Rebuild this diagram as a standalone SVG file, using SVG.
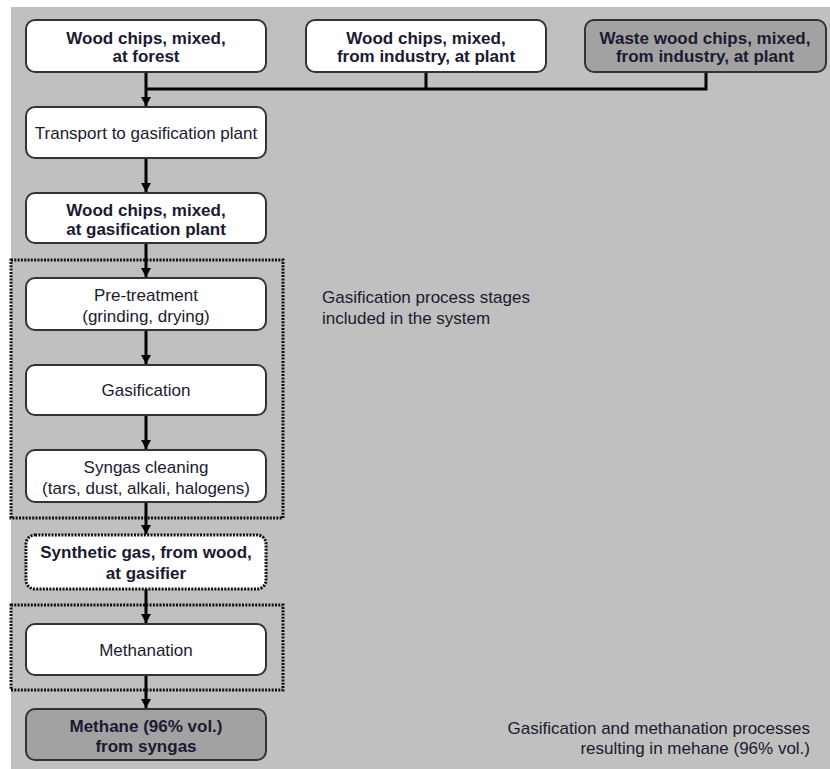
<svg xmlns="http://www.w3.org/2000/svg" width="830" height="769" viewBox="0 0 830 769">
  <style>
    .box { fill: #ffffff; stroke: #333333; stroke-width: 2; }
    .dark { fill: #a2a2a2; }
    .dotted { stroke: #111111; stroke-width: 3; stroke-dasharray: 2 1.3; fill: none; }
    .dotbox { fill: #ffffff; stroke: #111111; stroke-width: 3; stroke-dasharray: 2 1.3; }
    .t { font-family: "Liberation Sans", Arial, sans-serif; font-size: 17px; fill: #1a1a30; text-anchor: middle; }
    .b { font-weight: bold; font-size: 17px; }
    .note { font-family: "Liberation Sans", Arial, sans-serif; font-size: 17px; fill: #1a1a30; }
    .line { stroke: #000000; stroke-width: 3; fill: none; }
  </style>
  <defs>
    <marker id="ah" markerWidth="11" markerHeight="10" refX="10" refY="5.5" orient="auto" markerUnits="userSpaceOnUse" viewBox="0 0 10 11">
      <path d="M0,0 L10,5.5 L0,11 Z" fill="#000000"/>
    </marker>
  </defs>

  <!-- page -->
  <rect x="0" y="0" width="830" height="769" fill="#ffffff"/>
  <rect x="11" y="7" width="819" height="762" fill="#c0c0c0"/>

  <!-- stage group outlines -->
  <rect class="dotted" x="11" y="260" width="272" height="258"/>
  <rect class="dotted" x="11" y="605" width="272" height="85"/>

  <!-- connectors -->
  <g id="connectors">
    <path class="line" d="M426,72 V89"/>
    <path class="line" d="M706,72 V89 H146"/>
    <path class="line" d="M146,72 V106" marker-end="url(#ah)"/>
    <path class="line" d="M146,158 V192" marker-end="url(#ah)"/>
    <path class="line" d="M146,243 V277" marker-end="url(#ah)"/>
    <path class="line" d="M146,330 V364" marker-end="url(#ah)"/>
    <path class="line" d="M146,415 V449" marker-end="url(#ah)"/>
    <path class="line" d="M146,502 V534" marker-end="url(#ah)"/>
    <path class="line" d="M146,589 V623" marker-end="url(#ah)"/>
    <path class="line" d="M146,675 V708" marker-end="url(#ah)"/>
  </g>

  <g id="forest">
    <rect class="box" x="26" y="20" width="240" height="52" rx="9"/>
    <text class="t b" x="146" y="44">Wood chips, mixed,</text>
    <text class="t b" x="146" y="62">at forest</text>
  </g>
  <g id="industry">
    <rect class="box" x="306" y="20" width="240" height="52" rx="9"/>
    <text class="t b" x="426" y="44">Wood chips, mixed,</text>
    <text class="t b" x="426" y="62">from industry, at plant</text>
  </g>
  <g id="waste">
    <rect class="box dark" x="585" y="20" width="241" height="52" rx="9"/>
    <text class="t b" x="705" y="44">Waste wood chips, mixed,</text>
    <text class="t b" x="705" y="62">from industry, at plant</text>
  </g>
  <g id="transport">
    <rect class="box" x="26" y="107" width="240" height="51" rx="9"/>
    <text class="t" x="146" y="139">Transport to gasification plant</text>
  </g>
  <g id="at-plant">
    <rect class="box" x="26" y="193" width="240" height="50" rx="9"/>
    <text class="t b" x="146" y="216">Wood chips, mixed,</text>
    <text class="t b" x="146" y="235">at gasification plant</text>
  </g>
  <g id="pretreatment">
    <rect class="box" x="26" y="278" width="240" height="52" rx="9"/>
    <text class="t" x="146" y="301">Pre-treatment</text>
    <text class="t" x="146" y="322">(grinding, drying)</text>
  </g>
  <g id="gasification">
    <rect class="box" x="26" y="365" width="240" height="50" rx="9"/>
    <text class="t" x="146" y="396">Gasification</text>
  </g>
  <g id="cleaning">
    <rect class="box" x="26" y="450" width="240" height="52" rx="9"/>
    <text class="t" x="146" y="473">Syngas cleaning</text>
    <text class="t" x="146" y="494">(tars, dust, alkali, halogens)</text>
  </g>
  <g id="syngas">
    <rect class="dotbox" x="26" y="535" width="240" height="54" rx="9"/>
    <text class="t b" x="146" y="558">Synthetic gas, from wood,</text>
    <text class="t b" x="146" y="579">at gasifier</text>
  </g>
  <g id="methanation">
    <rect class="box" x="26" y="624" width="240" height="51" rx="9"/>
    <text class="t" x="146" y="656">Methanation</text>
  </g>
  <g id="methane">
    <rect class="box dark" x="26" y="709" width="240" height="51" rx="9"/>
    <text class="t b" x="146" y="732">Methane (96% vol.)</text>
    <text class="t b" x="146" y="752">from syngas</text>
  </g>

  <g id="notes">
    <text class="note" x="322" y="303">Gasification process stages</text>
    <text class="note" x="322" y="324">included in the system</text>
    <text class="note" x="810" y="734" text-anchor="end">Gasification and methanation processes</text>
    <text class="note" x="810" y="754" text-anchor="end">resulting in mehane (96% vol.)</text>
  </g>
</svg>
